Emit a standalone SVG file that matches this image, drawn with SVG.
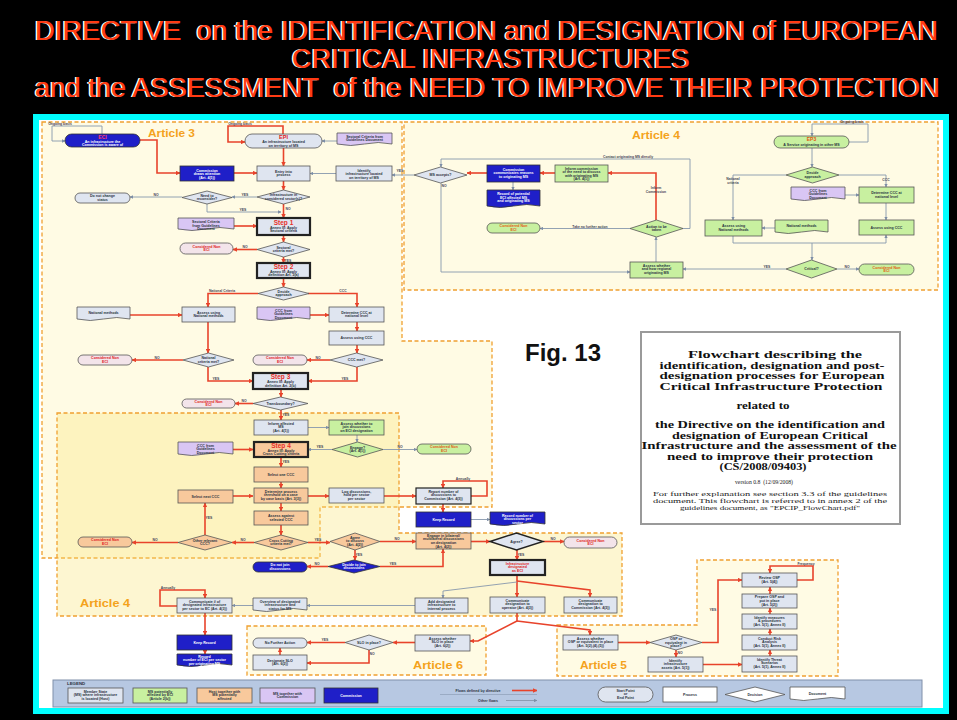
<svg xmlns="http://www.w3.org/2000/svg" width="957" height="720" viewBox="0 0 957 720">
<defs>
<marker id="ar" viewBox="0 0 6 6" refX="5.5" refY="3" markerWidth="4.5" markerHeight="4.5" markerUnits="userSpaceOnUse" orient="auto"><path d="M0,0L6,3L0,6z" fill="#e8432b"/></marker>
<marker id="ag" viewBox="0 0 6 6" refX="5.5" refY="3" markerWidth="3.5" markerHeight="3.5" markerUnits="userSpaceOnUse" orient="auto"><path d="M0,0L6,3L0,6z" fill="#7d8ea6"/></marker>
<style>
.ttl{font-family:"Liberation Sans",Arial,sans-serif;font-size:27px}
.tw1{fill:#ffffff}
.tr1{fill:#ff3b14}
.reg{fill:#fffbe4;stroke:#f0a030;stroke-width:1.3;stroke-dasharray:4 2.5}
.reg4{fill:#f9e47a;fill-opacity:.35;stroke:#f0a030;stroke-width:1.3;stroke-dasharray:4 2.5}
.p{fill:#dfe5f0;stroke:#555;stroke-width:.8}
.g{fill:#c8f0a0;stroke:#555;stroke-width:.8}
.o{fill:#f8c99c;stroke:#555;stroke-width:.8}
.l{fill:#d9c6f4;stroke:#555;stroke-width:.8}
.b{fill:#1f1fc8;stroke:#333;stroke-width:.8}
.nx{fill:#f3e4ea;stroke:#555;stroke-width:.8}
.k{stroke:#222;stroke-width:2.2}
.t{font-family:"Liberation Sans",Arial,sans-serif;font-size:3.6px;font-weight:bold;fill:#2a3340;text-anchor:middle}
.w{fill:#fff}
.r{fill:#e02020}
.st{font-size:6.5px;fill:#e8302a}
.art{font-family:"Liberation Sans",Arial,sans-serif;font-size:10px;font-weight:bold;fill:#f4a21c}
.cr{fill:none;stroke:#e8432b;stroke-width:1.6;marker-end:url(#ar)}
.cg{fill:none;stroke:#8797ad;stroke-width:.9;marker-end:url(#ag)}
.lb{font-family:"Liberation Sans",Arial,sans-serif;font-size:3.4px;font-weight:bold;fill:#445;text-anchor:middle}
.bx{font-family:"Liberation Serif","Times New Roman",serif;font-weight:bold;font-size:10.5px;fill:#111;text-anchor:middle}
.bs{font-family:"Liberation Serif","Times New Roman",serif;font-size:6.2px;fill:#222;text-anchor:middle}
</style>
</defs>
<rect x="0" y="0" width="957" height="720" fill="#000"/>
<g id="title">
<text class="ttl tw1" x="33.5" y="39.5" textLength="903" lengthAdjust="spacingAndGlyphs" xml:space="preserve">DIRECTIVE  on the IDENTIFICATION and DESIGNATION of EUROPEAN</text>
<text class="ttl tr1" x="35" y="40" textLength="903" lengthAdjust="spacingAndGlyphs" xml:space="preserve">DIRECTIVE  on the IDENTIFICATION and DESIGNATION of EUROPEAN</text>
<text class="ttl tw1" x="290.5" y="67.5" textLength="398" lengthAdjust="spacingAndGlyphs">CRITICAL INFRASTRUCTURES</text>
<text class="ttl tr1" x="292" y="68" textLength="398" lengthAdjust="spacingAndGlyphs">CRITICAL INFRASTRUCTURES</text>
<text class="ttl tw1" x="33.5" y="96.5" textLength="905" lengthAdjust="spacingAndGlyphs" xml:space="preserve">and the ASSESSMENT  of the NEED TO IMPROVE THEIR PROTECTION</text>
<text class="ttl tr1" x="35" y="97" textLength="905" lengthAdjust="spacingAndGlyphs" xml:space="preserve">and the ASSESSMENT  of the NEED TO IMPROVE THEIR PROTECTION</text>
</g>
<rect x="36" y="117" width="910" height="594" fill="#fff" stroke="#00ffff" stroke-width="6"/>
<g id="regions">
<path class="reg" d="M42,122H402V341H492V507H320V558H42Z"/>
<rect class="reg" x="404" y="122" width="534" height="168"/>
<path class="reg4" d="M57,413H399V533H622V616H57Z"/>
<rect class="reg" x="247" y="626" width="239" height="49"/>
<path class="reg" d="M557,625H697V560H838V676H557Z"/>
<text class="art" x="148" y="137" textLength="47" lengthAdjust="spacingAndGlyphs">Article 3</text>
<text class="art" x="632" y="139" textLength="48" lengthAdjust="spacingAndGlyphs">Article 4</text>
<text class="art" x="80" y="607" textLength="50" lengthAdjust="spacingAndGlyphs">Article 4</text>
<text class="art" x="413" y="669" textLength="50" lengthAdjust="spacingAndGlyphs">Article 6</text>
<text class="art" x="580" y="669" textLength="47" lengthAdjust="spacingAndGlyphs">Article 5</text>
</g>
<g id="connectors">
<path class="cg" d="M102,134V126H52V141H65"/>
<path class="cr" d="M283,134V126H228V142H245"/>
<path class="cr" d="M140,140H157V173H180"/>
<path class="cr" d="M234,173H257"/>
<path class="cg" d="M337,141H322"/>
<path class="cr" d="M283.5,148V166"/>
<path class="cg" d="M336,173.5H310"/>
<path class="cg" d="M414,175H392"/>
<path class="cr" d="M283.5,181V190"/>
<path class="cg" d="M257,197H232"/>
<path class="cg" d="M182,197H130"/>
<path class="cg" d="M207,204V212H281"/>
<path class="cr" d="M283.5,204V218"/>
<path class="cr" d="M234,226H257"/>
<path class="cr" d="M283.5,235V242"/>
<path class="cr" d="M257,249.5H233"/>
<path class="cr" d="M283.5,257V263"/>
<path class="cr" d="M283.5,278V287"/>
<path class="cr" d="M258,293.5H208V307"/>
<path class="cr" d="M308,293.5H357V307"/>
<path class="cr" d="M130,315H182"/>
<path class="cr" d="M310,315H329"/>
<path class="cr" d="M357,322V331"/>
<path class="cr" d="M357,345V353"/>
<path class="cr" d="M208,322V353"/>
<path class="cr" d="M183,360H132"/>
<path class="cr" d="M330,360H307"/>
<path class="cr" d="M208,367V381H253"/>
<path class="cr" d="M357,367V381H308"/>
<path class="cr" d="M281,389V397"/>
<path class="cr" d="M253,403.5H235"/>
<path class="cr" d="M281,410V420"/>
<path class="cg" d="M308,427.5H329"/>
<path class="cg" d="M357,435V442"/>
<path class="cg" d="M332,449.5H308"/>
<path class="cg" d="M383,449.5H417"/>
<path class="cr" d="M233,449.5H253"/>
<path class="cr" d="M281,457V467"/>
<path class="cr" d="M281,482V488"/>
<path class="cr" d="M233,496H253"/>
<path class="cr" d="M308,496H329"/>
<path class="cr" d="M384,496H416"/>
<path class="cr" d="M281,503V511"/>
<path class="cr" d="M471,496H487V481H443V488"/>
<path class="cr" d="M443,504V512"/>
<path class="cg" d="M471,519.5H490"/>
<path class="cr" d="M281,525V535"/>
<path class="cr" d="M254,542.5H232"/>
<path class="cr" d="M178,542.5H132"/>
<path class="cr" d="M205,535V503"/>
<path class="cr" d="M308,542.5H330"/>
<path class="cr" d="M380,541.5H416"/>
<path class="cr" d="M355,550V560"/>
<path class="cr" d="M328,566.5H307"/>
<path class="cr" d="M380,566.5H443V549"/>
<path class="cr" d="M471,541.5H490"/>
<path class="cr" d="M543,541.5H564"/>
<path class="cr" d="M517,550V560"/>
<path class="cr" d="M517,575V597"/>
<path class="cr" d="M517,581L590,590V597"/>
<path class="cg" d="M517,582L443,591V598"/>
<path class="cg" d="M415,605.5H307"/>
<path class="cg" d="M253,605.5H232"/>
<path class="cr" d="M177,606H160V590H205V598"/>
<path class="cr" d="M205,613V635"/>
<path class="cr" d="M205,650V654"/>
<path class="cr" d="M517,613V621L478,641H470"/>
<path class="cr" d="M517,621L590,630V635"/>
<path class="cr" d="M415,642.5H393"/>
<path class="cr" d="M345,642.5H307"/>
<path class="cr" d="M369,650V663H307"/>
<path class="cr" d="M280,655V648"/>
<path class="cr" d="M618,642.5H650"/>
<path class="cr" d="M676,650V657"/>
<path class="cr" d="M702,642.5H718V580H742"/>
<path class="cr" d="M703,664.5H742"/>
<path class="cr" d="M770,656V650"/>
<path class="cr" d="M770,635V629"/>
<path class="cr" d="M770,614V608"/>
<path class="cr" d="M770,594V587"/>
<path class="cr" d="M797,580H813V566H770V573"/>
<path class="cg" d="M849,142H868V124H812V136"/>
<path class="cg" d="M812,148V167"/>
<path class="cg" d="M786,175H733V220"/>
<path class="cg" d="M839,175H886V187"/>
<path class="cg" d="M845,195H859"/>
<path class="cg" d="M886,203V220"/>
<path class="cg" d="M775,228H762"/>
<path class="cg" d="M733,236V243H886V235"/>
<path class="cg" d="M812,243V260"/>
<path class="cg" d="M786,269H683"/>
<path class="cg" d="M837,269H859"/>
<path class="cg" d="M656,262V237"/>
<path class="cr" d="M656,220V173H608"/>
<path class="cr" d="M555,173H540"/>
<path class="cr" d="M487,173H467"/>
<path class="cg" d="M513,182V190"/>
<path class="cg" d="M683,228.5H690V159H441V167"/>
<path class="cg" d="M630,228.5H540"/>
<path class="cg" d="M441,182V272H630"/>
<text class="lb" x="60" y="124.5">Ongoing basis</text>
<text class="lb" x="240" y="124.5">Ongoing basis</text>
<text class="lb" x="852" y="122.5">Ongoing basis</text>
<text class="lb" x="400" y="172">YES</text>
<text class="lb" x="245" y="195.8">YES</text>
<text class="lb" x="156" y="195.8">NO</text>
<text class="lb" x="243" y="211">YES</text>
<text class="lb" x="288" y="210">NO</text>
<text class="lb" x="245" y="248">NO</text>
<text class="lb" x="288" y="261.5">YES</text>
<text class="lb" x="222" y="292">National Criteria</text>
<text class="lb" x="343" y="292">CCC</text>
<text class="lb" x="157" y="358.8">NO</text>
<text class="lb" x="318" y="358.8">NO</text>
<text class="lb" x="216" y="380">YES</text>
<text class="lb" x="345" y="380">YES</text>
<text class="lb" x="244" y="402">NO</text>
<text class="lb" x="286" y="416">YES</text>
<text class="lb" x="320" y="448">YES</text>
<text class="lb" x="400" y="448">NO</text>
<text class="lb" x="286" y="463">YES</text>
<text class="lb" x="463" y="479.5">Annually</text>
<text class="lb" x="209" y="519">YES</text>
<text class="lb" x="243" y="541">NO</text>
<text class="lb" x="155" y="541">NO</text>
<text class="lb" x="318" y="541">YES</text>
<text class="lb" x="397" y="540">NO</text>
<text class="lb" x="359" y="555.5">YES</text>
<text class="lb" x="317" y="565">NO</text>
<text class="lb" x="393" y="565">YES</text>
<text class="lb" x="553" y="540">NO</text>
<text class="lb" x="521" y="555.5">YES</text>
<text class="lb" x="168" y="588.5">Annually</text>
<text class="lb" x="325" y="641">YES</text>
<text class="lb" x="372" y="655">NO</text>
<text class="lb" x="680" y="654">NO</text>
<text class="lb" x="713" y="611">YES</text>
<text class="lb" x="806" y="564.5">Frequency</text>
<text class="lb" x="733" y="180">National</text>
<text class="lb" x="733" y="183.5">criteria</text>
<text class="lb" x="886" y="181">CCC</text>
<text class="lb" x="767" y="267.5">YES</text>
<text class="lb" x="847" y="267.5">NO</text>
<text class="lb" x="656" y="189">Inform</text>
<text class="lb" x="656" y="192.5">Commission</text>
<text class="lb" x="628" y="157.5">Contact originating MS directly</text>
<text class="lb" x="590" y="227.5">Take no further action</text>
<text class="lb" x="444" y="187">NO</text>
</g>
<g id="n-eci"><rect class="b" x="65" y="134" width="75" height="13" rx="6.5"/><text class="t" x="102.5" y="139" style="fill:#ff3b6b;font-size:5px">ECI</text><text class="t w" x="102.5" y="142.6">An infrastructure the</text><text class="t w" x="102.5" y="146">Commission is aware of</text></g>
<g id="n-epi"><rect class="p" x="245" y="134" width="77" height="14" rx="7"/><text class="t r" x="283.5" y="139.4" style="font-size:5.5px">EPI</text><text class="t" x="283.5" y="143.2">An infrastructure located</text><text class="t" x="283.5" y="146.6">on territory of MS</text></g>
<g id="d-sect1"><path class="l" d="M337,133h55v11q-13.75,-3 -27.5,0t-27.5,0z"/><text class="t" x="364.5" y="137.8">Sectoral Criteria from</text><text class="t" x="364.5" y="141.4">Guidelines Document</text></g>
<g id="n-commdraw"><rect class="b" x="180" y="166" width="54" height="15"/><text class="t w" x="207" y="171.6">Commission</text><text class="t w" x="207" y="175.2">draws attention</text><text class="t w" x="207" y="178.8">(Art. 4(1))</text></g>
<g id="n-entry"><rect class="p" x="257" y="166" width="53" height="15"/><text class="t" x="283.5" y="172.8">Entry into</text><text class="t" x="283.5" y="176.4">process</text></g>
<g id="n-identify"><rect class="p" x="336" y="166" width="56" height="15"/><text class="t" x="364" y="171.6">Identify</text><text class="t" x="364" y="175.2">infrastructure located</text><text class="t" x="364" y="178.8">on territory of MS</text></g>
<g id="q-sector"><polygon class="p" points="257,197 283.5,190 310,197 283.5,204"/><text class="t" x="283.5" y="196">Infrastructure in</text><text class="t" x="283.5" y="199.6">considered sector(s)?</text></g>
<g id="q-reconsider"><polygon class="p" points="182,197.5 207,191 232,197.5 207,204"/><text class="t" x="207" y="196.5">Need to</text><text class="t" x="207" y="200">reconsider?</text></g>
<g id="n-nochange"><rect class="p" x="75" y="193" width="55" height="10" rx="5"/><text class="t" x="102.5" y="197.2">Do not change</text><text class="t" x="102.5" y="200.8">status</text></g>
<g id="n-step1"><rect class="p k" x="257" y="218" width="53" height="17"/><text class="t st" x="283.5" y="224.5">Step 1</text><text class="t" x="283.5" y="228.6">Annex III: Apply</text><text class="t" x="283.5" y="232.2">Sectoral criteria</text></g>
<g id="d-sect2"><path class="l" d="M178,218h56v11q-14,-3 -28,0t-28,0z"/><text class="t" x="206" y="223">Sectoral Criteria</text><text class="t" x="206" y="226.6">from Guidelines</text><text class="t" x="206" y="230">Document</text></g>
<g id="q-sectmet"><polygon class="p" points="257,249.5 283.5,242 310,249.5 283.5,257"/><text class="t" x="283.5" y="248.6">Sectoral</text><text class="t" x="283.5" y="252.2">criteria met?</text></g>
<g id="n-non1"><rect class="nx" x="180" y="243" width="53" height="11" rx="5.5"/><text class="t r" x="206.5" y="247.8">Considered Non</text><text class="t r" x="206.5" y="251.4">ECI</text></g>
<g id="n-step2"><rect class="p k" x="257" y="263" width="53" height="15"/><text class="t st" x="283.5" y="269">Step 2</text><text class="t" x="283.5" y="272.6">Annex III: Apply</text><text class="t" x="283.5" y="276">definition Art. 2(a)</text></g>
<g id="q-approach"><polygon class="p" points="258,293.5 283.5,287 309,293.5 283.5,300"/><text class="t" x="283.5" y="292.6">Decide</text><text class="t" x="283.5" y="296.2">approach</text></g>
<g id="d-natmeth"><path class="p" d="M77,307h53v12q-13.25,-3 -26.5,0t-26.5,0z"/><text class="t" x="103.5" y="314.2">National methods</text></g>
<g id="n-assessnat"><rect class="p" x="182" y="307" width="53" height="15"/><text class="t" x="208.5" y="313.6">Assess using</text><text class="t" x="208.5" y="317.2">National methods</text></g>
<g id="d-ccc1"><path class="l" d="M257,307h53v12q-13.25,-3 -26.5,0t-26.5,0z"/><text class="t" x="283.5" y="311.8">CCC from</text><text class="t" x="283.5" y="315.4">Guidelines</text><text class="t" x="283.5" y="319">Document</text></g>
<g id="n-detccc"><rect class="p" x="329" y="307" width="55" height="15"/><text class="t" x="356.5" y="313.6">Determine CCC at</text><text class="t" x="356.5" y="317.2">national level</text></g>
<g id="n-assessccc"><rect class="p" x="329" y="331" width="55" height="14"/><text class="t" x="356.5" y="339.2">Assess using CCC</text></g>
<g id="q-natmet"><polygon class="p" points="183,360 208.5,353 234,360 208.5,367"/><text class="t" x="208.5" y="359">National</text><text class="t" x="208.5" y="362.6">criteria met?</text></g>
<g id="n-non2"><rect class="nx" x="78" y="355" width="54" height="10" rx="5"/><text class="t r" x="105" y="359.3">Considered Non</text><text class="t r" x="105" y="362.9">ECI</text></g>
<g id="n-non3"><rect class="nx" x="253" y="355" width="54" height="10" rx="5"/><text class="t r" x="280" y="359.3">Considered Non</text><text class="t r" x="280" y="362.9">ECI</text></g>
<g id="q-cccmet"><polygon class="p" points="330,360 356.5,353 383,360 356.5,367"/><text class="t" x="356.5" y="361.3">CCC met?</text></g>
<g id="n-step3"><rect class="p k" x="253" y="373" width="55" height="16"/><text class="t st" x="280.5" y="379.4">Step 3</text><text class="t" x="280.5" y="383.2">Annex III: Apply</text><text class="t" x="280.5" y="386.8">definition Art. 2(b)</text></g>
<g id="q-trans"><polygon class="p" points="253,403.5 280.5,397 308,403.5 280.5,410"/><text class="t" x="280.5" y="404.8">Transboundary?</text></g>
<g id="n-non4"><rect class="nx" x="182" y="399" width="53" height="9" rx="4.5"/><text class="t r" x="208.5" y="402.8">Considered Non</text><text class="t r" x="208.5" y="406.3">ECI</text></g>
<g id="n-inform"><rect class="p" x="254" y="420" width="54" height="15"/><text class="t" x="281" y="424.8">Inform affected</text><text class="t" x="281" y="428.4">MS</text><text class="t" x="281" y="432">(Art. 4(1))</text></g>
<g id="n-assessjoin"><rect class="g" x="329" y="420" width="55" height="15"/><text class="t" x="356.5" y="424.8">Assess whether to</text><text class="t" x="356.5" y="428.4">join discussions</text><text class="t" x="356.5" y="432">on ECI designation</text></g>
<g id="q-engage"><polygon class="g" points="332,449.5 357.5,442 383,449.5 357.5,457"/><text class="t" x="357.5" y="448.6">Engage?</text><text class="t" x="357.5" y="452.2">(Art. 4(1))</text></g>
<g id="n-non5"><rect class="g" x="417" y="444" width="54" height="10" rx="5"/><text class="t" x="444" y="448.3" style="fill:#e25a10">Considered Non</text><text class="t" x="444" y="451.9" style="fill:#e25a10">ECI</text></g>
<g id="n-step4"><rect class="o k" x="254" y="442" width="54" height="15"/><text class="t st" x="281" y="448">Step 4</text><text class="t" x="281" y="451.6">Annex III: Apply</text><text class="t" x="281" y="455.2">Cross Cutting criteria</text></g>
<g id="d-ccc2"><path class="l" d="M178,442h55v12q-13.75,-3 -27.5,0t-27.5,0z"/><text class="t" x="205.5" y="446.6">CCC from</text><text class="t" x="205.5" y="450.2">Guidelines</text><text class="t" x="205.5" y="453.8">Document</text></g>
<g id="n-selone"><rect class="o" x="254" y="467" width="54" height="15"/><text class="t" x="281" y="475.8">Select one CCC</text></g>
<g id="n-determine"><rect class="o" x="254" y="488" width="54" height="15"/><text class="t" x="281" y="492.8">Determine process</text><text class="t" x="281" y="496.4">threshold on a case</text><text class="t" x="281" y="500">by case basis (Art. 3(3))</text></g>
<g id="n-selnext"><rect class="o" x="178" y="490" width="55" height="13"/><text class="t" x="205.5" y="497.8">Select next CCC</text></g>
<g id="n-log"><rect class="p" x="329" y="488" width="55" height="15"/><text class="t" x="356.5" y="492.8">Log discussions,</text><text class="t" x="356.5" y="496.4">hold per sector</text><text class="t" x="356.5" y="500">per sector</text></g>
<g id="n-report1"><rect class="p k" x="416" y="488" width="55" height="16" style="stroke-width:1.2"/><text class="t" x="443.5" y="492.8">Report number of</text><text class="t" x="443.5" y="496.4">discussions to</text><text class="t" x="443.5" y="500">Commission (Art. 4(3))</text></g>
<g id="n-keep1"><rect class="b" x="416" y="512" width="55" height="15"/><text class="t w" x="443.5" y="520.8">Keep Record</text></g>
<g id="d-rec1"><path class="b" d="M490,512h55v12q-13.75,-3 -27.5,0t-27.5,0z"/><text class="t w" x="517.5" y="516.8">Record number of</text><text class="t w" x="517.5" y="520.4">discussions per</text><text class="t w" x="517.5" y="524">sector</text></g>
<g id="n-assesssel"><rect class="o" x="254" y="511" width="54" height="14"/><text class="t" x="281" y="517">Assess against</text><text class="t" x="281" y="520.6">selected CCC</text></g>
<g id="q-other"><polygon class="o" points="178,542.5 205,535 232,542.5 205,550"/><text class="t" x="205" y="541.6">Other relevant</text><text class="t" x="205" y="545.2">CCC?</text></g>
<g id="q-cross"><polygon class="o" points="254,542.5 281,535 308,542.5 281,550"/><text class="t" x="281" y="541.6">Cross Cutting</text><text class="t" x="281" y="545.2">criteria met?</text></g>
<g id="n-non6"><rect class="o" x="78" y="537" width="54" height="10" rx="5"/><text class="t r" x="105" y="541.3">Considered Non</text><text class="t r" x="105" y="544.9">ECI</text></g>
<g id="q-agreediscuss"><polygon class="o" points="330,541.5 355,533 380,541.5 355,550"/><text class="t" x="355" y="538.8">Agree</text><text class="t" x="355" y="542.4">to discuss</text><text class="t" x="355" y="546">(Art. 4(2))</text></g>
<g id="q-decidejoin"><polygon class="b" points="328,566.5 354,560 380,566.5 354,573"/><text class="t w" x="354" y="565.6">Decide to join</text><text class="t w" x="354" y="569.2">discussions</text></g>
<g id="n-nojoin"><rect class="b" x="253" y="562" width="54" height="10" rx="5"/><text class="t w" x="280" y="566.3">Do not join</text><text class="t w" x="280" y="569.9">discussions</text></g>
<g id="n-engage"><rect class="o" x="416" y="533" width="55" height="16"/><text class="t" x="443.5" y="536.8">Engage in bilateral/</text><text class="t" x="443.5" y="540.4">multilateral discussions</text><text class="t" x="443.5" y="544">on designation</text><text class="t" x="443.5" y="547.6">(Art. 4(2))</text></g>
<g id="q-agree"><polygon class="p k" points="490,541.5 516.5,533 543,541.5 516.5,550" style="stroke-width:1.4"/><text class="t" x="516.5" y="542.8">Agree?</text></g>
<g id="n-non7"><rect class="nx" x="564" y="537" width="53" height="11" rx="5.5"/><text class="t r" x="590.5" y="541.8">Considered Non</text><text class="t r" x="590.5" y="545.4">ECI</text></g>
<g id="n-designated"><rect class="p k" x="490" y="560" width="55" height="15"/><text class="t r" x="517.5" y="564.8">Infrastructure</text><text class="t r" x="517.5" y="568.4">designated</text><text class="t r" x="517.5" y="572">as ECI</text></g>
<g id="n-commop"><rect class="p" x="490" y="597" width="55" height="16"/><text class="t" x="517.5" y="601.8">Communicate</text><text class="t" x="517.5" y="605.4">designation to</text><text class="t" x="517.5" y="609">operator (Art. 4(3))</text></g>
<g id="n-commec"><rect class="p" x="564" y="597" width="53" height="16"/><text class="t" x="590.5" y="601.8">Communicate</text><text class="t" x="590.5" y="605.4">designation to</text><text class="t" x="590.5" y="609">Commission (Art. 4(3))</text></g>
<g id="n-add"><rect class="p" x="415" y="598" width="53" height="15"/><text class="t" x="441.5" y="602.8">Add designated</text><text class="t" x="441.5" y="606.4">infrastructure to</text><text class="t" x="441.5" y="610">internal process</text></g>
<g id="d-overview"><path class="p" d="M253,598h54v12q-13.5,-3 -27,0t-27,0z"/><text class="t" x="280" y="602.6">Overview of designated</text><text class="t" x="280" y="606.2">infrastructure and</text><text class="t" x="280" y="609.8">status for MS</text></g>
<g id="n-commnum"><rect class="p" x="177" y="598" width="55" height="15"/><text class="t" x="204.5" y="602.8">Communicate # of</text><text class="t" x="204.5" y="606.4">designated infrastructure</text><text class="t" x="204.5" y="610">per sector to EC (Art. 4(3))</text></g>
<g id="n-keep2"><rect class="b" x="177" y="635" width="55" height="15"/><text class="t w" x="204.5" y="643.8">Keep Record</text></g>
<g id="d-rec2"><path class="b" d="M177,654h55v11q-13.75,-3 -27.5,0t-27.5,0z"/><text class="t w" x="204.5" y="657.8">Record</text><text class="t w" x="204.5" y="661.4">number of ECI per sector</text><text class="t w" x="204.5" y="665">per originating MS</text></g>
<g id="n-nofurther"><rect class="p" x="253" y="638" width="54" height="10" rx="5"/><text class="t" x="280" y="644.3">No Further Action</text></g>
<g id="q-slo"><polygon class="p" points="345,642.5 369,635 393,642.5 369,650"/><text class="t" x="369" y="643.8">SLO in place?</text></g>
<g id="n-assessslo"><rect class="p" x="415" y="635" width="55" height="16"/><text class="t" x="442.5" y="639.8">Assess whether</text><text class="t" x="442.5" y="643.4">SLO in place</text><text class="t" x="442.5" y="647">(Art. 6(2))</text></g>
<g id="n-desslo"><rect class="p" x="253" y="655" width="54" height="15"/><text class="t" x="280" y="661.6">Designate SLO</text><text class="t" x="280" y="665.2">(Art. 6(2))</text></g>
<g id="n-assessosp"><rect class="p" x="563" y="635" width="55" height="15"/><text class="t" x="590.5" y="639.8">Assess whether</text><text class="t" x="590.5" y="643.4">OSP or equivalent in place</text><text class="t" x="590.5" y="647">(Art. 5(2),(4),(5))</text></g>
<g id="q-osp"><polygon class="p" points="650,642.5 676,635 702,642.5 676,650"/><text class="t" x="676" y="640.2">OSP or</text><text class="t" x="676" y="643.8">equivalent in</text><text class="t" x="676" y="647.4">place?</text></g>
<g id="n-identassets"><rect class="p" x="648" y="657" width="55" height="15"/><text class="t" x="675.5" y="661.8">Identify</text><text class="t" x="675.5" y="665.4">infrastructure</text><text class="t" x="675.5" y="669">assets (Art. 5(1))</text></g>
<g id="n-review"><rect class="p" x="742" y="573" width="55" height="14"/><text class="t" x="769.5" y="579.2">Review OSP</text><text class="t" x="769.5" y="582.8">(Art. 5(4))</text></g>
<g id="n-prepare"><rect class="p" x="742" y="594" width="55" height="14"/><text class="t" x="769.5" y="598.4">Prepare OSP and</text><text class="t" x="769.5" y="602">put in place</text><text class="t" x="769.5" y="605.6">(Art. 5(2))</text></g>
<g id="n-measures"><rect class="p" x="742" y="614" width="55" height="15"/><text class="t" x="769.5" y="618.8">Identify measures</text><text class="t" x="769.5" y="622.4">&amp; procedures</text><text class="t" x="769.5" y="626">(Art. 5(1), Annex II)</text></g>
<g id="n-risk"><rect class="p" x="742" y="635" width="55" height="15"/><text class="t" x="769.5" y="639.8">Conduct Risk</text><text class="t" x="769.5" y="643.4">Analysis</text><text class="t" x="769.5" y="647">(Art. 5(1), Annex II)</text></g>
<g id="n-threat"><rect class="p" x="742" y="656" width="55" height="16"/><text class="t" x="769.5" y="660.8">Identify Threat</text><text class="t" x="769.5" y="664.4">Scenarios</text><text class="t" x="769.5" y="668">(Art. 5(1), Annex II)</text></g>
<g id="q-msaccept"><polygon class="p" points="414,175 440.5,167 467,175 440.5,183"/><text class="t" x="440.5" y="176.3">MS accepts?</text></g>
<g id="n-commcomm"><rect class="b" x="487" y="165" width="53" height="17"/><text class="t w" x="513.5" y="170.6">Commission</text><text class="t w" x="513.5" y="174.2">communicates reasons</text><text class="t w" x="513.5" y="177.8">to originating MS</text></g>
<g id="d-record"><path class="b" d="M487,190h53v16q-13.25,-3 -26.5,0t-26.5,0z"/><text class="t w" x="513.5" y="195">Record of potential</text><text class="t w" x="513.5" y="198.6">ECI affected MS</text><text class="t w" x="513.5" y="202.2">and originating MS</text></g>
<g id="n-informc"><rect class="g" x="555" y="165" width="53" height="17"/><text class="t" x="581.5" y="169.6">Inform commission</text><text class="t" x="581.5" y="173.2">of the need to discuss</text><text class="t" x="581.5" y="176.8">with originating MS</text><text class="t" x="581.5" y="180.4">(Art. 4(1))</text></g>
<g id="n-non8"><rect class="g" x="487" y="223" width="53" height="10" rx="5"/><text class="t" x="513.5" y="227.3" style="fill:#e25a10">Considered Non</text><text class="t" x="513.5" y="230.9" style="fill:#e25a10">ECI</text></g>
<g id="q-action"><polygon class="g" points="630,228.5 656.5,220 683,228.5 656.5,237"/><text class="t" x="656.5" y="227.6">Action to be</text><text class="t" x="656.5" y="231.2">taken</text></g>
<g id="n-assesshow"><rect class="g" x="630" y="262" width="53" height="16"/><text class="t" x="656.5" y="266.8">Assess whether</text><text class="t" x="656.5" y="270.4">and how regional</text><text class="t" x="656.5" y="274">originating MS</text></g>
<g id="n-ep3"><rect class="g" x="774" y="136" width="75" height="12" rx="6"/><text class="t" x="811.5" y="141" style="fill:#e25a10;font-size:5px">EP3</text><text class="t" x="811.5" y="145.6">A Service originating in other MS</text></g>
<g id="q-approach2"><polygon class="g" points="786,175 812.5,167 839,175 812.5,183"/><text class="t" x="812.5" y="174.1">Decide</text><text class="t" x="812.5" y="177.7">approach</text></g>
<g id="d-ccc3"><path class="l" d="M791,187h54v12q-13.5,-3 -27,0t-27,0z"/><text class="t" x="818" y="191.6">CCC from</text><text class="t" x="818" y="195.2">Guidelines</text><text class="t" x="818" y="198.8">Document</text></g>
<g id="n-detccc2"><rect class="g" x="859" y="187" width="55" height="16"/><text class="t" x="886.5" y="194.2">Determine CCC at</text><text class="t" x="886.5" y="197.8">national level</text></g>
<g id="n-assessccc2"><rect class="g" x="859" y="220" width="55" height="15"/><text class="t" x="886.5" y="228.8">Assess using CCC</text></g>
<g id="n-assessnat2"><rect class="g" x="705" y="220" width="57" height="16"/><text class="t" x="733.5" y="227.2">Assess using</text><text class="t" x="733.5" y="230.8">National methods</text></g>
<g id="d-natmeth2"><path class="g" d="M775,220h53v12q-13.25,-3 -26.5,0t-26.5,0z"/><text class="t" x="801.5" y="227.2">National methods</text></g>
<g id="q-critical"><polygon class="g" points="786,269 811.5,260 837,269 811.5,278"/><text class="t" x="811.5" y="270.3">Critical?</text></g>
<g id="n-non9"><rect class="g" x="859" y="264" width="55" height="11" rx="5.5"/><text class="t" x="886.5" y="268.8" style="fill:#e25a10">Considered Non</text><text class="t" x="886.5" y="272.4" style="fill:#e25a10">ECI</text></g>
<g id="legend">
<rect x="53" y="680" width="869" height="27" fill="#b7c8e2" stroke="#8090aa" stroke-width="1"/>
<text class="t" x="67" y="685" style="text-anchor:start;font-size:4.4px">LEGEND</text>
<rect class="p" x="68" y="688" width="55" height="15"/><text class="t" x="95.5" y="692.8">Member State</text><text class="t" x="95.5" y="696.4">(MS) where infrastructure</text><text class="t" x="95.5" y="700">is located (Host)</text>
<rect class="g" x="133" y="688" width="54" height="15"/><text class="t" x="160" y="692.8">MS potentially</text><text class="t" x="160" y="696.4">affected by ECI</text><text class="t" x="160" y="700">(Article 2(b))</text>
<rect class="o" x="197" y="688" width="55" height="15"/><text class="t" x="224.5" y="692.8">Host together with</text><text class="t" x="224.5" y="696.4">MS potentially</text><text class="t" x="224.5" y="700">affected</text>
<rect class="l" x="260" y="688" width="55" height="15"/><text class="t" x="287.5" y="694.6">MS together with</text><text class="t" x="287.5" y="698.2">Commission</text>
<rect class="b" x="324" y="688" width="54" height="15"/><text class="t w" x="351" y="696.6">Commission</text>
<text class="t" x="478" y="691.5">Flows defined by directive</text>
<path class="cr" d="M512,690.5H537"/>
<path d="M440,694.5H537" stroke="#7d8ea6" stroke-width=".5"/>
<text class="t" x="488" y="701.5">Other flows</text>
<path class="cg" d="M506,700.5H537"/>
<rect class="p" x="598" y="687" width="55" height="15" rx="7.5"/><text class="t" x="625.5" y="691.8">Start Point</text><text class="t" x="625.5" y="695.4">or</text><text class="t" x="625.5" y="699">End Point</text>
<rect x="663" y="687" width="54" height="15" fill="#fff" stroke="#555" stroke-width=".8"/><text class="t" x="690" y="695.8">Process</text>
<polygon points="725,694.5 755,687 785,694.5 755,702" fill="#fff" stroke="#555" stroke-width=".8"/><text class="t" x="755" y="695.8">Decision</text>
<path d="M790,687h55v12q-13.75,-3 -27.5,0t-27.5,0z" fill="#fff" stroke="#555" stroke-width=".8"/><text class="t" x="817.5" y="694.6">Document</text>
</g>
<g id="fig">
<text x="525" y="361" font-family="Liberation Sans, Arial, sans-serif" font-size="24" font-weight="bold" fill="#111">Fig. 13</text>
</g>
<g id="textbox">
<rect x="641" y="332" width="259" height="192" fill="#fff" stroke="#9a9a9a" stroke-width="2"/>
<text class="bx" x="775" y="358" textLength="174" lengthAdjust="spacingAndGlyphs">Flowchart describing the</text>
<text class="bx" x="772" y="368.5" textLength="225" lengthAdjust="spacingAndGlyphs">identification, designation and post-</text>
<text class="bx" x="772" y="379" textLength="225" lengthAdjust="spacingAndGlyphs">designation processes for European</text>
<text class="bx" x="771" y="389.5" textLength="223" lengthAdjust="spacingAndGlyphs">Critical Infrastructure Protection</text>
<text class="bx" x="763" y="409" textLength="53" lengthAdjust="spacingAndGlyphs">related to</text>
<text class="bx" x="770" y="428" textLength="230" lengthAdjust="spacingAndGlyphs">the Directive on the identification and</text>
<text class="bx" x="770" y="438.5" textLength="196" lengthAdjust="spacingAndGlyphs">designation of European Critical</text>
<text class="bx" x="769" y="449" textLength="255" lengthAdjust="spacingAndGlyphs">Infrastructure and the assessment of the</text>
<text class="bx" x="770" y="459.5" textLength="206" lengthAdjust="spacingAndGlyphs">need to improve their protection</text>
<text class="bx" x="763" y="470" textLength="87" lengthAdjust="spacingAndGlyphs">(CS/2008/09403)</text>
<text class="bs" x="764" y="484" textLength="58" lengthAdjust="spacingAndGlyphs" xml:space="preserve">version 0.8  (12/09/2008)</text>
<text class="bs" x="770" y="496" textLength="234" lengthAdjust="spacingAndGlyphs">For further explanation see section 3.3 of the guidelines</text>
<text class="bs" x="770" y="503" textLength="234" lengthAdjust="spacingAndGlyphs">document. This flowchart is referred to in annex 2 of the</text>
<text class="bs" x="770" y="510" textLength="180" lengthAdjust="spacingAndGlyphs">guidelines document, as "EPCIP_FlowChart.pdf"</text>
</g>
</svg>
